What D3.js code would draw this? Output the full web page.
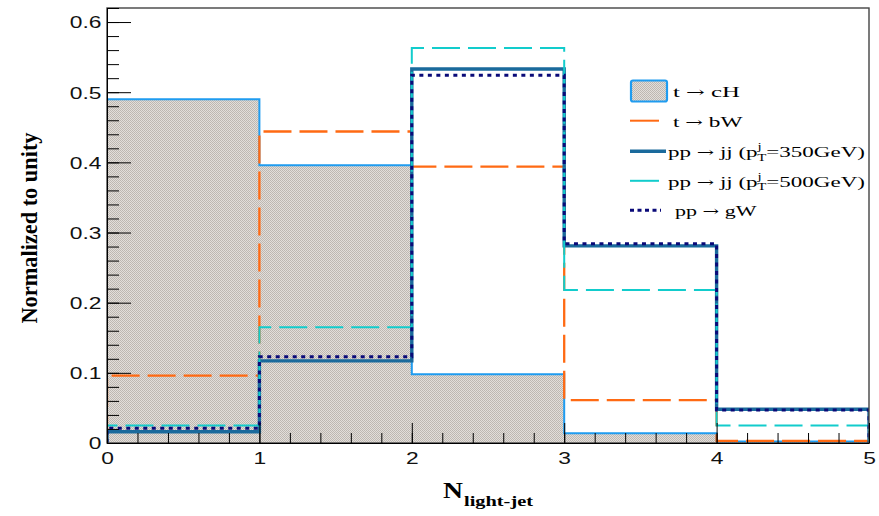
<!DOCTYPE html>
<html>
<head>
<meta charset="utf-8">
<script src="https://cdn.jsdelivr.net/npm/d3@7"></script>
<style>
  html, body { margin: 0; padding: 0; background: #fff; }
  svg { display: block; }
</style>
</head>
<body>
<svg id="chart" width="879" height="516"></svg>
<script>
// Bin edges of the light-jet multiplicity histogram
const binEdges = [0, 1, 2, 3, 4, 5];

// Normalised bin contents per sample
const tcH   = [0.490, 0.396, 0.098, 0.014, 0.002];
const tbW   = [0.096, 0.444, 0.394, 0.061, 0.003];
const jj350 = [0.016, 0.117, 0.533, 0.281, 0.048];
const jj500 = [0.025, 0.165, 0.563, 0.218, 0.025];
const gW    = [0.021, 0.123, 0.524, 0.284, 0.047];

// Axis ticks
const yMajor = [0, 0.1, 0.2, 0.3, 0.4, 0.5, 0.6];
const yLabels = ["0", "0.1", "0.2", "0.3", "0.4", "0.5", "0.6"];
const xMajor = [0, 1, 2, 3, 4, 5];
const xLabels = ["0", "1", "2", "3", "4", "5"];

const svg = d3.select("#chart");
const frame = { left: 107, right: 869, top: 8, bottom: 443 };

const x = d3.scaleLinear().domain([0, 5]).range([frame.left, frame.right]);
const y = d3.scaleLinear().domain([0, 0.62]).range([frame.bottom, frame.top]);

const defs = svg.append("defs");
defs.append("clipPath").attr("id", "plotClip")
  .append("rect")
  .attr("x", frame.left).attr("y", frame.top - 2)
  .attr("width", frame.right - frame.left).attr("height", frame.bottom - frame.top + 2);

// Fine stipple used for the signal fill
const pat = defs.append("pattern").attr("id", "stipple")
  .attr("patternUnits", "userSpaceOnUse").attr("width", 2).attr("height", 2);
pat.append("rect").attr("width", 2).attr("height", 2).attr("fill", "#e2deda");
pat.append("rect").attr("x", 0).attr("y", 0).attr("width", 1).attr("height", 1).attr("fill", "#bcb6b0");
pat.append("rect").attr("x", 1).attr("y", 1).attr("width", 1).attr("height", 1).attr("fill", "#bfb9b3");

// Step outline of a histogram, from the baseline up and back down
function stepPoints(vals) {
  const pts = [[x(binEdges[0]), y(0)]];
  vals.forEach((v, i) => {
    pts.push([x(binEdges[i]), y(v)]);
    pts.push([x(binEdges[i + 1]), y(v)]);
  });
  pts.push([x(binEdges[binEdges.length - 1]), y(0)]);
  return pts;
}
const line = d3.line();

const plot = svg.append("g").attr("clip-path", "url(#plotClip)");

const series = [
  { name: "t → cH", vals: tcH, color: "#1f9cf0", width: 2, dash: null, fill: "url(#stipple)" },
  { name: "t → bW", vals: tbW, color: "#ff6a13", width: 2.3, dash: "28,8", fill: null },
  { name: "jj350", vals: jj350, color: "#1a6a9c", width: 3.4, dash: null, fill: null },
  { name: "jj500", vals: jj500, color: "#12cccc", width: 2, dash: "28,8", fill: null },
  { name: "gW", vals: gW, color: "#0a0a78", width: 3, dash: "4,4.5", fill: null }
];

series.forEach(s => {
  const pts = stepPoints(s.vals);
  if (s.fill) {
    plot.append("path").attr("d", line(pts) + "Z").attr("fill", s.fill).attr("stroke", "none");
  }
  plot.append("path")
    .attr("d", line(pts))
    .attr("fill", "none")
    .attr("stroke", s.color)
    .attr("stroke-width", s.width)
    .attr("stroke-dasharray", s.dash)
    .attr("stroke-linejoin", "miter");
});

// Frame
svg.append("rect")
  .attr("x", frame.left).attr("y", frame.top)
  .attr("width", frame.right - frame.left).attr("height", frame.bottom - frame.top)
  .attr("fill", "none").attr("stroke", "#444").attr("stroke-width", 1.4);

const labelFont = "'Liberation Sans', Arial, sans-serif";
const sx = 1.4;

// Y axis: ticks point into the frame
const yMinor = d3.range(0, 0.6201, 0.02).map(v => +v.toFixed(2));
svg.append("g").attr("transform", `translate(${frame.left},0)`)
  .call(d3.axisLeft(y).tickValues(yMinor).tickSizeInner(-12).tickSizeOuter(0).tickFormat(""))
  .call(g => g.select(".domain").attr("stroke", "#000"));
const yAxis = svg.append("g").attr("transform", `translate(${frame.left},0)`)
  .call(d3.axisLeft(y).tickValues(yMajor).tickSizeInner(-24).tickSizeOuter(0)
    .tickFormat((d, i) => yLabels[i]));
yAxis.select(".domain").remove();
yAxis.selectAll("text")
  .attr("x", 0).attr("dy", "0.36em")
  .attr("transform", `translate(-5.5,0) scale(${sx},1)`)
  .style("font-family", labelFont).style("font-size", "16.3px").attr("fill", "#111");

// X axis
const xMinor = d3.range(0, 5.001, 0.2).map(v => +v.toFixed(1));
svg.append("g").attr("transform", `translate(0,${frame.bottom})`)
  .call(d3.axisBottom(x).tickValues(xMinor).tickSizeInner(-10).tickSizeOuter(0).tickFormat(""))
  .call(g => g.select(".domain").attr("stroke", "#000"));
const xAxis = svg.append("g").attr("transform", `translate(0,${frame.bottom})`)
  .call(d3.axisBottom(x).tickValues(xMajor).tickSizeInner(-20).tickSizeOuter(0)
    .tickFormat((d, i) => xLabels[i]));
xAxis.select(".domain").remove();
xAxis.selectAll("text")
  .attr("y", 0).attr("dy", 0)
  .attr("transform", `translate(0,20.5) scale(${sx},1)`)
  .style("font-family", labelFont).style("font-size", "16.3px").attr("fill", "#111");
svg.selectAll(".tick line").attr("stroke", "#000").attr("stroke-width", 1);

// Axis titles
const serif = "'Liberation Serif', 'Times New Roman', serif";
svg.append("text")
  .attr("transform", "translate(37,228) rotate(-90)")
  .attr("text-anchor", "middle")
  .attr("textLength", 191).attr("lengthAdjust", "spacingAndGlyphs")
  .style("font-family", serif).style("font-weight", "bold").style("font-size", "24px")
  .attr("fill", "#000")
  .text("Normalized to unity");

svg.append("text")
  .attr("x", 443).attr("y", 498)
  .attr("textLength", 20).attr("lengthAdjust", "spacingAndGlyphs")
  .style("font-family", serif).style("font-weight", "bold").style("font-size", "23.5px")
  .text("N");
svg.append("text")
  .attr("x", 464).attr("y", 506)
  .attr("textLength", 69).attr("lengthAdjust", "spacingAndGlyphs")
  .style("font-family", serif).style("font-weight", "bold").style("font-size", "14px")
  .text("light-jet");

// Legend
const legend = svg.append("g");
const legendRows = [
  { y: 90.5, x0: 673, x1: 740, kind: "box", s: series[0], a: "t", b: "cH" },
  { y: 120.7, x0: 673, x1: 743, kind: "line", s: { color: "#ff6a13", width: 2 }, len: 29, a: "t", b: "bW" },
  { y: 151.3, x0: 668, x1: 865, kind: "line", s: { color: "#1a6a9c", width: 3.6 }, len: 36, a: "pp", b: "jj", pt: "350" },
  { y: 180.8, x0: 668, x1: 865, kind: "line", s: { color: "#12cccc", width: 2 }, len: 29, a: "pp", b: "jj", pt: "500" },
  { y: 210.3, x0: 675, x1: 757, kind: "line", s: { color: "#0a0a78", width: 3, dash: "4,3.5" }, len: 31, a: "pp", b: "gW" }
];

legendRows.forEach(r => {
  if (r.kind === "box") {
    legend.append("rect")
      .attr("x", 631).attr("y", r.y - 10).attr("width", 36).attr("height", 21)
      .attr("rx", 2)
      .attr("fill", "url(#stipple)").attr("stroke", r.s.color).attr("stroke-width", 2.2);
  } else {
    legend.append("line")
      .attr("x1", 630).attr("x2", 630 + r.len).attr("y1", r.y).attr("y2", r.y)
      .attr("stroke", r.s.color).attr("stroke-width", r.s.width)
      .attr("stroke-dasharray", r.s.dash || null);
  }
  const g = legend.append("g");
  const t = g.append("text")
    .style("font-family", serif).style("font-size", "15.5px").attr("fill", "#000");
  t.append("tspan").text(r.a + " ");
  t.append("tspan").style("font-family", "'DejaVu Serif', serif").style("font-size", "14px").text("→");
  t.append("tspan").text(" " + r.b + (r.pt ? " (p" : ""));
  if (r.pt) {
    t.append("tspan").attr("dy", -7).style("font-size", "10px").text("j");
    t.append("tspan").attr("dx", -3).attr("dy", 10.5).style("font-size", "10px").text("T");
    t.append("tspan").attr("dy", -3.5).text(`=${r.pt}GeV)`);
  }
  const bb = t.node().getBBox();
  const k = (r.x1 - r.x0) / bb.width;
  g.attr("transform", `translate(${r.x0 - bb.x * k},${r.y + 6}) scale(${k},1)`);
});
</script>
</body>
</html>
